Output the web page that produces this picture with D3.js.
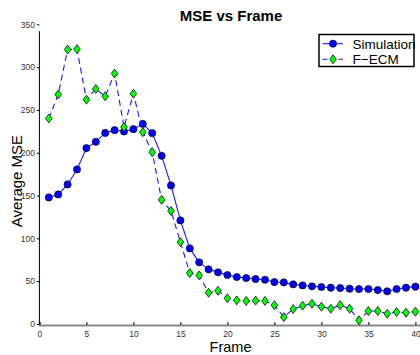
<!DOCTYPE html>
<html lang="en">
<head>
    <meta charset="UTF-8">
    <title>MSE vs Frame</title>
    <script src="https://cdn.jsdelivr.net/npm/d3@7"></script>
    <style>
        body { margin: 0; background: #fff; }
        svg { display: block; font-family: "Liberation Sans", Arial, sans-serif; }
    </style>
</head>
<body>
    <svg width="420" height="355"></svg>

    <script>
        // data
        const frames = d3.range(1, 41);
        const simulation = [147.8, 151.3, 163, 180.5, 205.4, 212.7, 223.2, 226.4, 224.8, 227.5,
            233.7, 222.9, 196.4, 161.8, 121, 88.3, 72, 63.8, 60.3, 57.2,
            54.8, 53.7, 52.5, 51.7, 49, 48.6, 46.3, 45.1, 44, 43.2,
            42.4, 42, 41.2, 40.8, 40.8, 39.7, 38.2, 40.8, 42.4, 43.6];
        const fecm = [240, 268, 320.5, 321, 262, 274.5, 266, 292.5, 230, 269,
            224, 200.7, 145, 132, 95.7, 59.5, 56.8, 36.5, 38.9, 30,
            27.6, 26.9, 27.3, 26.9, 22, 8, 17.5, 21.4, 23.7, 20.2,
            17.9, 22, 17.9, 4.3, 15.2, 15.2, 12, 14, 13.2, 14.4];
        const seriesNames = ["Simulation", "F\u2212ECM"];
        const xTicks = [0, 5, 10, 15, 20, 25, 30, 35, 40];
        const yTicks = [0, 50, 100, 150, 200, 250, 300, 350];

        const svg = d3.select("svg");

        const x = d3.scaleLinear().domain([0, 41]).range([39.4, 424.8]);
        const y = d3.scaleLinear().domain([0, 350]).range([324, 24.3]);

        // title
        svg.append("text")
            .attr("x", 231).attr("y", 21)
            .attr("text-anchor", "middle")
            .attr("font-size", "15px").attr("font-weight", "bold")
            .text("MSE vs Frame");

        // x axis (grey, ticks pointing up)
        const xAxis = svg.append("g")
            .attr("transform", `translate(0,${y(0) + 1})`)
            .call(d3.axisBottom(x).tickValues(xTicks).tickSize(-3).tickPadding(5.5));
        xAxis.select(".domain").attr("stroke", "#888").attr("stroke-width", 2);
        xAxis.selectAll(".tick line").attr("stroke", "#000");
        xAxis.selectAll(".tick text")
            .attr("font-size", "8.5px").attr("fill", "#333")
            .attr("font-family", "Liberation Sans, Arial, sans-serif");

        // y axis
        const yAxis = svg.append("g")
            .attr("transform", `translate(${x(0)},0)`)
            .call(d3.axisLeft(y).tickValues(yTicks).tickSize(2.5).tickPadding(2));
        yAxis.select(".domain").remove();
        yAxis.append("line")
            .attr("x1", 0).attr("x2", 0)
            .attr("y1", y(0)).attr("y2", y(342))
            .attr("stroke", "#000");
        yAxis.selectAll(".tick text")
            .attr("font-size", "8.5px").attr("fill", "#333")
            .attr("font-family", "Liberation Sans, Arial, sans-serif");

        // axis labels
        svg.append("text")
            .attr("x", 230.5).attr("y", 352)
            .attr("text-anchor", "middle")
            .attr("font-size", "14.5px")
            .text("Frame");
        svg.append("text")
            .attr("transform", "translate(22,181) rotate(-90)")
            .attr("text-anchor", "middle")
            .attr("font-size", "15px")
            .text("Average MSE");

        const diamond = "M0,-4.5L3.3,0L0,4.5L-3.3,0Z";

        const line = d3.line()
            .x((d, i) => x(frames[i]))
            .y(d => y(d));

        // Simulation
        svg.append("path")
            .datum(simulation)
            .attr("fill", "none")
            .attr("stroke", "#1a1aff")
            .attr("stroke-width", 1.1)
            .attr("d", line);
        svg.append("g").selectAll("circle")
            .data(simulation)
            .join("circle")
            .attr("cx", (d, i) => x(frames[i]))
            .attr("cy", d => y(d))
            .attr("r", 3.6)
            .attr("fill", "#0000ff")
            .attr("stroke", "#111")
            .attr("stroke-width", 0.7);

        // F-ECM
        svg.append("path")
            .datum(fecm)
            .attr("fill", "none")
            .attr("stroke", "#1a1aff")
            .attr("stroke-width", 1.1)
            .attr("stroke-dasharray", "6,4")
            .attr("d", line);
        svg.append("g").selectAll("path")
            .data(fecm)
            .join("path")
            .attr("transform", (d, i) => `translate(${x(frames[i])},${y(d)})`)
            .attr("d", diamond)
            .attr("fill", "#00ff00")
            .attr("stroke", "#111")
            .attr("stroke-width", 0.8);

        // legend
        const lg = svg.append("g");
        lg.append("rect")
            .attr("x", 319).attr("y", 34.5)
            .attr("width", 95).attr("height", 32)
            .attr("fill", "#fff");
        const rows = [
            { name: seriesNames[0], dash: null, marker: "circle" },
            { name: seriesNames[1], dash: "5,3", marker: "diamond" }
        ];
        rows.forEach((r, i) => {
            const yy = 43.7 + i * 15.6;
            lg.append("line")
                .attr("x1", 322.5).attr("x2", 343)
                .attr("y1", yy).attr("y2", yy)
                .attr("stroke", "#1a1aff").attr("stroke-width", 1.1)
                .attr("stroke-dasharray", r.dash);
            if (r.marker === "circle") {
                lg.append("circle")
                    .attr("cx", 333).attr("cy", yy).attr("r", 3.6)
                    .attr("fill", "#0000ff").attr("stroke", "#111").attr("stroke-width", 0.7);
            } else {
                lg.append("path")
                    .attr("transform", `translate(333,${yy})`)
                    .attr("d", diamond)
                    .attr("fill", "#00ff00").attr("stroke", "#111").attr("stroke-width", 0.8);
            }
            lg.append("text")
                .attr("x", 352.5).attr("y", yy + 4.8)
                .attr("font-size", "13.5px")
                .text(r.name);
        });
        lg.append("rect")
            .attr("x", 319).attr("y", 34.5)
            .attr("width", 95).attr("height", 32)
            .attr("fill", "none")
            .attr("stroke", "#000").attr("stroke-width", 1.5);
    </script>
</body>
</html>
